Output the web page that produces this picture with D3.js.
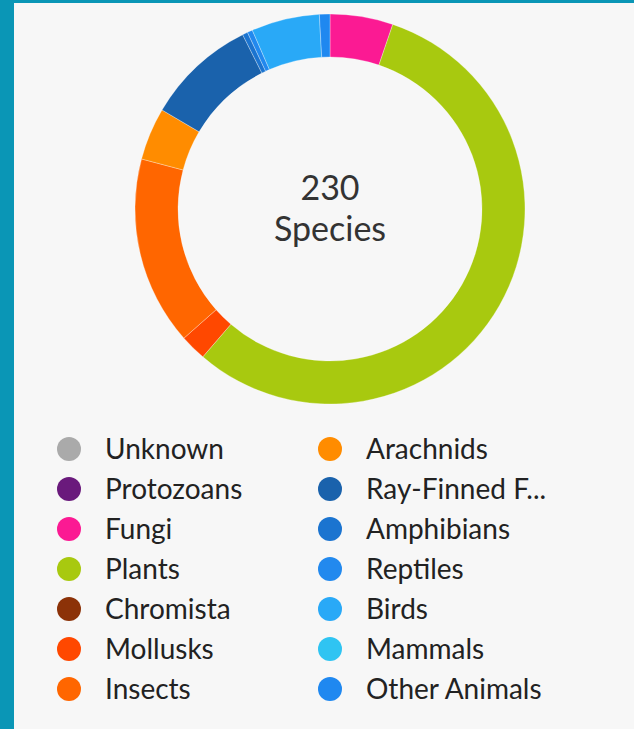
<!DOCTYPE html>
<html>
<head>
  <meta charset="UTF-8">
  <script src="https://d3js.org/d3.v7.min.js"></script>
  <title>Species by group</title>
  <style type="text/css">
    html, body { margin:0; padding:0; background:#0a96b6; }
    svg { display:block; }
  </style>
</head>
<body>
  <div class="chart"></div>
  <script>
    // groups in legend order, with species counts
    var categories = ["Unknown", "Protozoans", "Fungi", "Plants", "Chromista", "Mollusks", "Insects",
                      "Arachnids", "Ray-Finned F...", "Amphibians", "Reptiles", "Birds", "Mammals", "Other Animals"];
    var counts = [0, 0, 12, 129, 0, 5, 36, 10, 21, 1, 1, 13, 0, 2];
    var colors = ["#aaaaaa", "#6a1a7c", "#fb1a93", "#a8c90f", "#8c3208", "#ff4800", "#ff6600",
                  "#ff8c00", "#1a62ac", "#1b74d0", "#2289ee", "#29a9f7", "#2fc4f2", "#1f88f0"];
    var totalLabel = "Species";

    var svgWidth = 634, svgHeight = 729;

    var svg = d3.select(".chart")
      .append("svg")
      .attr("width", svgWidth)
      .attr("height", svgHeight);

    // teal frame + grey panel
    svg.append("rect")
      .attr("width", svgWidth).attr("height", svgHeight)
      .attr("fill", "#0a96b6");
    svg.append("rect")
      .attr("x", 14).attr("y", 3)
      .attr("width", svgWidth - 14).attr("height", svgHeight - 3)
      .attr("fill", "#f7f7f7");

    var cx = 330, cy = 209,
        outerR = 195, innerR = 152;

    var data = categories.map(function(c, i) {
      return {name: c, value: counts[i], color: colors[i]};
    });

    var pie = d3.pie()
      .sort(null)
      .value(function(d) { return d.value; });

    var arc = d3.arc()
      .innerRadius(innerR)
      .outerRadius(outerR);

    var donut = svg.append("g")
      .attr("transform", "translate(" + cx + "," + cy + ")");

    donut.selectAll("path")
      .data(pie(data).filter(function(d) { return d.data.value > 0; }))
      .enter()
      .append("path")
      .attr("d", arc)
      .attr("fill", function(d) { return d.data.color; })
      .attr("stroke", "#ffffff")
      .attr("stroke-opacity", 0.5)
      .attr("stroke-width", 0.6);

    var total = d3.sum(counts);

    // centre label, two lines
    donut.append("text")
      .attr("text-anchor", "middle")
      .attr("y", -9)
      .attr("font-family", "Lato, 'Open Sans', sans-serif")
      .attr("font-size", 34)
      .attr("fill", "#333333")
      .text(total);

    donut.append("text")
      .attr("text-anchor", "middle")
      .attr("y", 32)
      .attr("font-family", "Lato, 'Open Sans', sans-serif")
      .attr("font-size", 34)
      .attr("fill", "#333333")
      .text(totalLabel);

    // legend: two columns of seven
    var perCol = 7;
    var rowY = d3.scaleLinear().domain([0, 1]).range([449, 489]);
    var colX = d3.scaleLinear().domain([0, 1]).range([69, 330]);

    var legend = svg.append("g").attr("class", "legend");

    var item = legend.selectAll("g")
      .data(data)
      .enter()
      .append("g")
      .attr("transform", function(d, i) {
        return "translate(" + colX(Math.floor(i / perCol)) + "," + rowY(i % perCol) + ")";
      });

    item.append("circle")
      .attr("r", 12)
      .attr("fill", function(d) { return d.color; });

    item.append("text")
      .attr("x", 36)
      .attr("y", 10)
      .attr("font-family", "Lato, 'Open Sans', sans-serif")
      .attr("font-size", 28)
      .attr("fill", "#222222")
      .text(function(d) { return d.name; });
  </script>
</body>
</html>
